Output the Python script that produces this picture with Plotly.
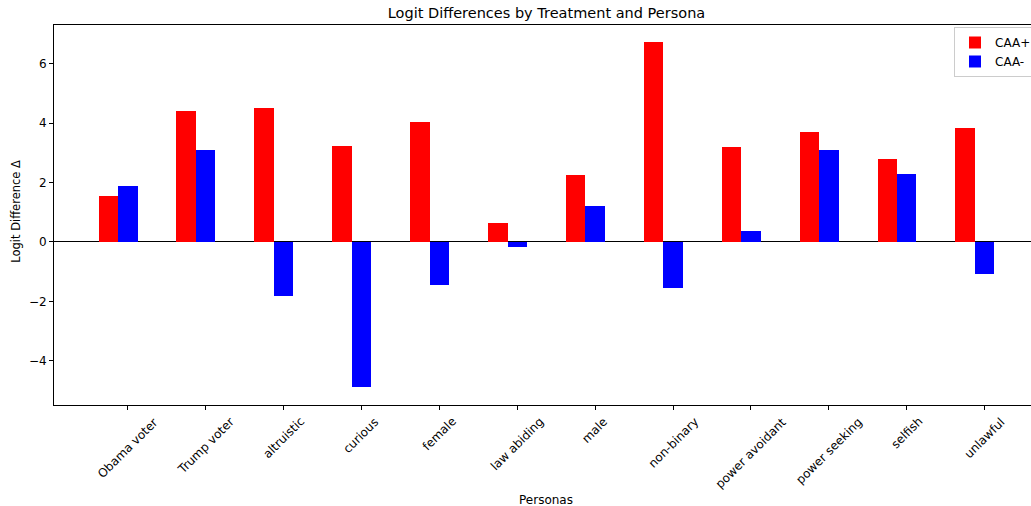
import numpy as np
import plotly.graph_objects as go

personas = ["Obama voter", "Trump voter", "altruistic", "curious", "female", "law abiding",
            "male", "non-binary", "power avoidant", "power seeking", "selfish", "unlawful"]
caa_plus = [1.56, 4.41, 4.51, 3.24, 4.04, 0.65, 2.26, 6.73, 3.20, 3.71, 2.80, 3.84]
caa_minus = [1.89, 3.10, -1.81, -4.89, -1.44, -0.16, 1.22, -1.56, 0.38, 3.10, 2.30, -1.07]
y_ticks = [-4, -2, 0, 2, 4, 6]

width = 0.25
idx = np.arange(len(personas))
FONT = "DejaVu Sans"

fig = go.Figure()
fig.add_trace(go.Bar(x=idx, y=caa_plus, width=width, name="CAA+",
                     marker=dict(color="red", line=dict(width=0))))
fig.add_trace(go.Bar(x=idx + width, y=caa_minus, width=width, name="CAA-",
                     marker=dict(color="blue", line=dict(width=0))))

annotations = []
for i, name in enumerate(personas):
    annotations.append(dict(x=idx[i] + width, xref="x", y=0, yref="paper",
                            text=name, showarrow=False, textangle=-45,
                            xanchor="center", yanchor="top", yshift=-7,
                            font=dict(family=FONT, size=12, color="black")))
annotations.append(dict(x=(-0.7 + 11.95) / 2, xref="x", y=-95 / 380.5, yref="paper",
                        text="Personas", showarrow=False, xanchor="center", yanchor="middle",
                        font=dict(family=FONT, size=12, color="black")))
annotations.append(dict(x=-38 / 977, xref="paper", y=0.5085, yref="paper",
                        text="Logit Difference Δ", showarrow=False, textangle=-90,
                        xanchor="center", yanchor="middle",
                        font=dict(family=FONT, size=11.5, color="black")))

fig.update_layout(
    width=1031, height=506,
    margin=dict(l=54, r=0, t=25, b=100.5, autoexpand=False),
    paper_bgcolor="white", plot_bgcolor="white",
    barmode="overlay", bargap=0,
    font=dict(family=FONT, size=12, color="black"),
    title=dict(text="Logit Differences by Treatment and Persona", x=(546.5 - 54) / 977,
               xref="paper", xanchor="center", y=1 - 12.5 / 506, yref="container",
               yanchor="middle", font=dict(family=FONT, size=14.5, color="black")),
    xaxis=dict(range=[-0.697, 11.845], tickvals=list(idx + width), ticktext=[""] * len(personas),
               ticks="outside", ticklen=4, tickcolor="black", tickwidth=1,
               showline=True, linecolor="black", linewidth=1, mirror=True,
               showgrid=False, zeroline=False, automargin=False),
    yaxis=dict(range=[-5.49, 7.30], tickvals=y_ticks, ticks="outside", ticklen=4,
               tickcolor="black", tickwidth=1, showline=True, linecolor="black", linewidth=1,
               showgrid=False, zeroline=True, zerolinecolor="black", zerolinewidth=1,
               automargin=False,
               tickfont=dict(family=FONT, size=12, color="black")),
    legend=dict(x=(954 - 54) / 977, y=(405.5 - 27) / 380.5, xanchor="left", yanchor="top",
                bgcolor="rgba(255,255,255,0.8)", bordercolor="#cccccc", borderwidth=1,
                font=dict(family=FONT, size=12, color="black")),
    annotations=annotations,
    showlegend=True,
)

fig.write_html("out.html", config={"displayModeBar": False},
               post_script="document.body.style.margin='0';")
